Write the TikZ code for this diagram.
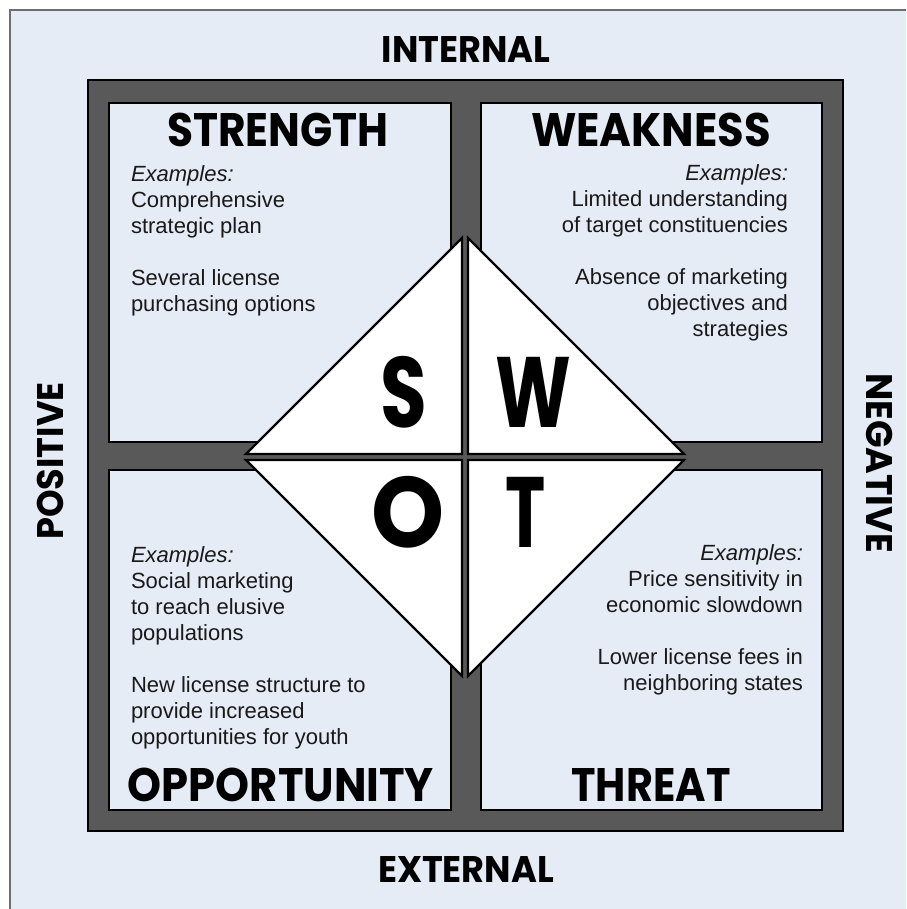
\documentclass[tikz,border=0pt]{standalone}
\usepackage{graphicx}
\usepackage{fontspec}
\setmainfont{Liberation Sans}
\newfontfamily\headfont{Poppins}
\usetikzlibrary{calc,positioning}
\definecolor{panelblue}{HTML}{E6ECF6}
\definecolor{framegray}{HTML}{595959}
\definecolor{bordergray}{HTML}{6E6E6E}
% squeeze a heading sideways
\newcommand{\narrow}[2]{\scalebox{#1}[1]{#2}}

\begin{document}
\begin{tikzpicture}[x=1pt,y=-1pt,every node/.style={inner sep=0pt,outer sep=0pt},
  quad/.style={draw=black,line width=1.2pt,fill=panelblue},
  tri/.style={draw=black,line width=2.2pt,fill=white,line join=miter},
  head/.style={font=\headfont\bfseries\fontsize{47}{50}\selectfont},
  side/.style={font=\headfont\bfseries\fontsize{37}{40}\selectfont},
  letter/.style={font=\headfont\bfseries\fontsize{100}{100}\selectfont},
  ex/.style={font=\fontsize{22}{26}\selectfont,text=black!90}]
\useasboundingbox (0,0) rectangle (906,909);
\clip (0,0) rectangle (906,909);
\fill[white] (0,0) rectangle (906,909);
\draw[fill=panelblue,draw=bordergray,line width=1.2pt] (10,10) rectangle (940,940);
% frame and the four quadrants
\draw[fill=framegray,line width=1.2pt] (88,80) rectangle (843,831);
\draw[quad] (109,103) rectangle (451,442);\draw[quad] (481,103) rectangle (822,442);
\draw[quad] (109,470) rectangle (451,810);\draw[quad] (481,470) rectangle (822,810);
% centre diamond, split in four
\coordinate (c) at (465,457);
\foreach \sx/\sy in {-1/-1,1/-1,-1/1,1/1}{
  \draw[tri] ($(c)+(3*\sx,3*\sy)$) -- ++(0,216*\sy) -- ++(216*\sx,-216*\sy) -- cycle;}
\node[letter] (s) at (404,392) {\narrow{.76}{S}};\node[letter] (w) at (533,392) {\narrow{.72}{W}};
\node[letter] (o) at (408,512) {\narrow{.93}{O}};\node[letter] (t) at (526,512) {\narrow{.68}{T}};
% headings
\node[head] (strength) at (278,130) {\narrow{.9}{STRENGTH}};\node[head] (weakness) at (651,130) {\narrow{.92}{WEAKNESS}};
\node[head] (opportunity) at (281,785) {\narrow{.92}{OPPORTUNITY}};\node[head] (threat) at (651,785) {\narrow{.88}{THREAT}};
\node[side] (internal) at (466,50) {\narrow{.95}{INTERNAL}};\node[side] (external) at (466,870) {\narrow{.95}{EXTERNAL}};
\node[side,rotate=90] (positive) at (50,461) {\narrow{.95}{POSITIVE}};\node[side,rotate=-90] (negative) at (880,463) {\narrow{.98}{NEGATIVE}};
% examples
\node[ex,align=left,anchor=north west] (strex) at (131,166) {\textit{Examples:}\\Comprehensive\\strategic plan\\[26pt]Several license\\purchasing options};
\node[ex,align=right,anchor=north east] (weakex) at (788,165) {\textit{Examples:}\\Limited understanding\\of target constituencies\\[26pt]Absence of marketing\\objectives and\\strategies};
\node[ex,align=left,anchor=north west] (oppex) at (131,547) {\textit{Examples:}\\Social marketing\\to reach elusive\\populations\\[26pt]New license structure to\\provide increased\\opportunities for youth};
\node[ex,align=right,anchor=north east] (threx) at (803,545) {\textit{Examples:}\\Price sensitivity in\\economic slowdown\\[26pt]Lower license fees in\\neighboring states};
\end{tikzpicture}
\end{document}
